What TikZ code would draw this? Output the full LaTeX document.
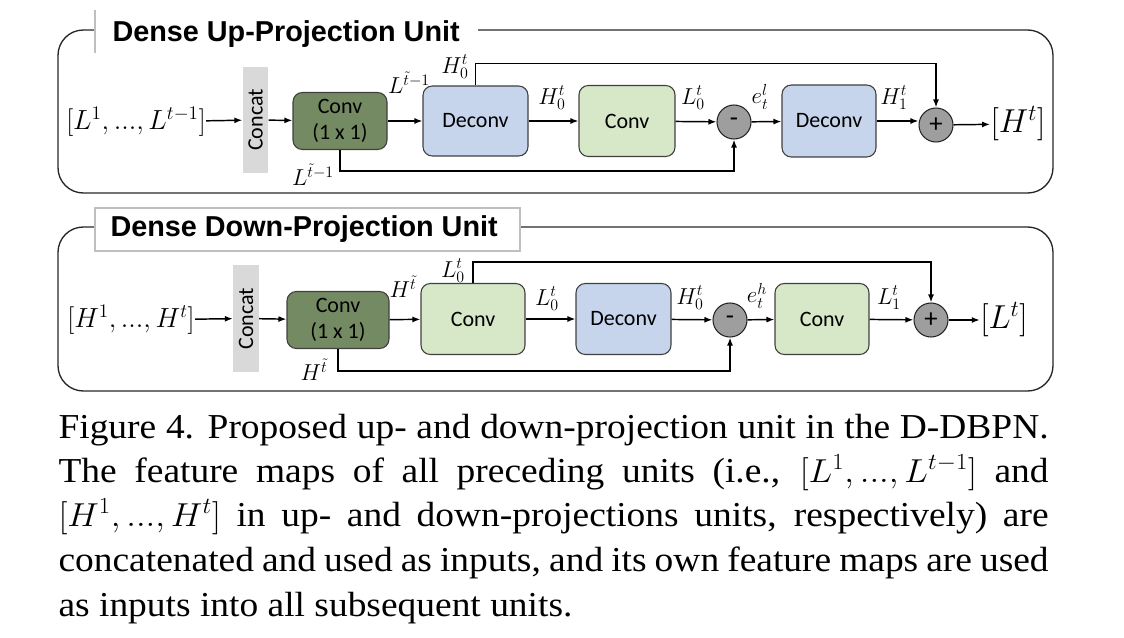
\documentclass[tikz,border=0pt]{standalone}
\usepackage{fontspec}
\usepackage{graphicx}
\setmainfont{Liberation Serif}
\newfontfamily\boxfont{Carlito}
\newfontfamily\titlefont{Liberation Sans}
\usetikzlibrary{arrows.meta}

\definecolor{convdark}{RGB}{116,138,98}
\definecolor{deconvblue}{RGB}{198,212,236}
\definecolor{convlight}{RGB}{214,232,200}
\definecolor{opgray}{RGB}{158,158,158}
\definecolor{catgray}{RGB}{217,217,217}

\tikzset{every picture/.style={line width=0.75pt}}
\tikzset{
	blockbox/.style={draw=black!75, line width=0.8pt, rounded corners=7pt, align=center, inner sep=0pt,
		font=\boxfont\fontsize{16.5}{19.5}\selectfont},
	onebyone/.style={blockbox, fill=convdark, minimum height=42.75pt},
	convblock/.style={blockbox, fill=convlight, minimum height=53.25pt},
	deconvblock/.style={blockbox, fill=deconvblue, minimum height=53.25pt},
	catblock/.style={fill=catgray, inner sep=0pt, minimum width=19pt, minimum height=79pt,
		font=\boxfont\fontsize{16.5}{19.5}\selectfont},
	opnode/.style={circle, draw=black!85, line width=0.8pt, fill=opgray, minimum size=25.5pt, inner sep=0pt,
		font=\boxfont\fontsize{20}{22}\selectfont},
	lbl/.style={inner sep=0pt, font=\fontsize{18}{21}\selectfont},
	biglbl/.style={inner sep=0pt, font=\fontsize{24}{27}\selectfont},
	inlbl/.style={inner sep=0pt, font=\fontsize{22}{25}\selectfont},
	arr/.style={-{Latex[length=6pt,width=4.5pt]}, line width=1.1pt},
	unitframe/.style={draw=black!85, line width=1pt, rounded corners=19pt},
	unittitle/.style={anchor=west, inner sep=0pt, font=\titlefont\bfseries\fontsize{21.6}{25}\selectfont},
	capline/.style={anchor=base west, inner sep=0pt, xscale=1.07, font=\fontsize{26.25}{30}\selectfont}
}

\begin{document}
\begin{tikzpicture}[x=0.75pt,y=0.75pt,yscale=-1,xscale=1]
	\useasboundingbox (0,0) rectangle (1124,638);

	%%%% Dense Up-Projection Unit
	%Shape: Frame
	\draw [unitframe] (58,30) rectangle (1053,193);
	%Shape: Title box
	\fill [white] (95,10) rectangle (478,53);
	\draw [black!25, line width=1pt] (95,10) -- (95,53);
	\node [unittitle] (ttlU) at (112,34) {Dense Up-Projection Unit};

	% Blocks
	\node [inlbl] (inU) at (136,122) {$[L^1, ..., L^{t-1}]$};
	\node [catblock, minimum height=79pt] (catU) at (255.5,120) {\rotatebox{90}{Concat}};
	\node [onebyone, minimum width=70.5pt] (c1U) at (340,121) {Conv\\(1 x 1)};
	\node [deconvblock, minimum width=78.75pt, minimum height=52.5pt] (dcU) at (475.5,121) {Deconv};
	\node [convblock, minimum width=72pt] (cU) at (627,121) {Conv};
	\node [opnode] (mU) at (734,122) {-};
	\node [deconvblock, minimum width=70.5pt, minimum height=54pt] (dc2U) at (829,121) {Deconv};
	\node [opnode] (pU) at (936,125) {+};
	\node [biglbl] (outU) at (1018,124) {$[H^t]$};

	% Connectors
	\draw [arr] (inU) -- (catU);
	\draw [arr] (catU) -- (c1U);
	\draw [arr] (c1U) -- (dcU);
	\draw [arr] (dcU) -- (cU);
	\draw [arr] (cU) -- (mU);
	\draw [arr] (mU) -- (dc2U);
	\draw [arr] (dc2U.east) -- (pU.west |- dc2U.east);
	\draw [arr] (pU) -- (outU);
	\draw [arr] (dcU.north) -- ++(0,-22) -| (pU.north);
	\draw [arr] (c1U.south) -- ++(0,21) -| (mU.south);

	% Text Node
	\node [lbl] (lblU1) at (409,83) {$L^{\tilde{t}-1}$};
	\node [lbl] (lblU2) at (455,67) {$H_0^t$};
	\node [lbl] (lblU3) at (552,98) {$H_0^t$};
	\node [lbl] (lblU4) at (693,98) {$L_0^t$};
	\node [lbl] (lblU5) at (760,97) {$e_t^l$};
	\node [lbl] (lblU6) at (894,98) {$H_1^t$};
	\node [lbl] (lblU7) at (313,175) {$L^{\tilde{t}-1}$};

	%%%% Dense Down-Projection Unit
	%Shape: Frame
	\draw [unitframe] (58,227) rectangle (1053,391);
	%Shape: Title box
	\draw [black!25, line width=1pt, fill=white] (95,208) rectangle (520,251);
	\node [unittitle] (ttlD) at (110,229) {Dense Down-Projection Unit};

	% Blocks
	\node [inlbl] (inD) at (131,320) {$[H^1, ..., H^t]$};
	\node [catblock, minimum height=80pt] (catD) at (246,318.5) {\rotatebox{90}{Concat}};
	\node [onebyone, minimum width=76.5pt] (c1D) at (338,320) {Conv\\(1 x 1)};
	\node [convblock, minimum width=78pt] (cD) at (473,319) {Conv};
	\node [deconvblock, minimum width=71.25pt] (dcD) at (623.5,319) {Deconv};
	\node [opnode] (mD) at (730,320) {-};
	\node [convblock, minimum width=70.5pt] (c2D) at (822,319) {Conv};
	\node [opnode] (pD) at (931,320) {+};
	\node [biglbl] (outD) at (1004,320) {$[L^t]$};

	% Connectors
	\draw [arr] (inD) -- (catD);
	\draw [arr] (catD) -- (c1D);
	\draw [arr] (c1D) -- (cD);
	\draw [arr] (cD) -- (dcD);
	\draw [arr] (dcD) -- (mD);
	\draw [arr] (mD) -- (c2D);
	\draw [arr] (c2D) -- (pD);
	\draw [arr] (pD) -- (outD);
	\draw [arr] (cD.north) -- ++(0,-21) -| (pD.north);
	\draw [arr] (c1D.south) -- ++(0,22) -| (mD.south);

	% Text Node
	\node [lbl] (lblD1) at (403,287) {$H^{\tilde{t}}$};
	\node [lbl] (lblD2) at (453,271) {$L_0^t$};
	\node [lbl] (lblD3) at (547,299) {$L_0^t$};
	\node [lbl] (lblD4) at (690,298) {$H_0^t$};
	\node [lbl] (lblD5) at (757,296) {$e_t^h$};
	\node [lbl] (lblD6) at (889,298) {$L_1^t$};
	\node [lbl] (lblD7) at (314,370) {$H^{\tilde{t}}$};

	%%%% Caption
	\node [capline] (cap1) at (58,438) {\makebox[694pt][s]{Figure 4. Proposed up- and down-projection unit in the D-DBPN.}};
	\node [capline] (cap2) at (58,482) {\makebox[694pt][s]{The feature maps of all preceding units (i.e., $[L^1, ..., L^{t-1}]$ and}};
	\node [capline] (cap3) at (58,526) {\makebox[694pt][s]{$[H^1, ..., H^t]$ in up- and down-projections units, respectively) are}};
	\node [capline] (cap4) at (58,571) {\makebox[694pt][s]{concatenated and used as inputs, and its own feature maps are used}};
	\node [capline] (cap5) at (58,616) {as inputs into all subsequent units.};

\end{tikzpicture}
\end{document}
